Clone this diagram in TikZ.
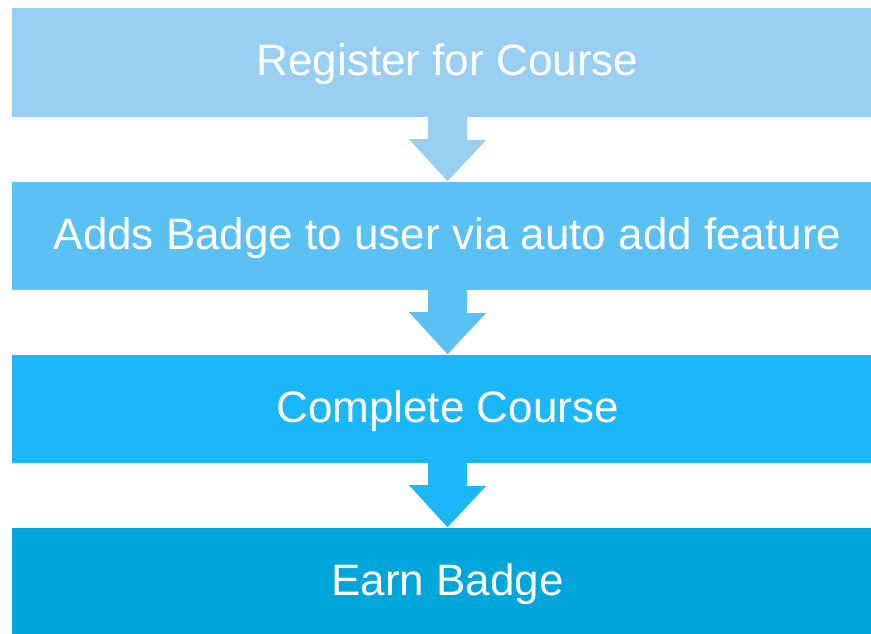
\documentclass[tikz,border=0pt]{standalone}
\usepackage{fontspec}
\setmainfont{Liberation Sans}
\usetikzlibrary{calc}
\definecolor{c1}{HTML}{99CFF3}
\definecolor{c2}{HTML}{5BC0F3}
\definecolor{c3}{HTML}{1BB7F9}
\definecolor{c4}{HTML}{00A5D9}
\tikzset{
  stage/.style={rectangle, inner sep=0pt, minimum width=871pt, text=white,
    text height=26pt, text depth=0pt,
    font=\fontsize{44}{52}\selectfont},
}
\newcommand{\flowarrow}[2]{%
  \fill[#2] ($(#1.south)+(-19.5,-1)$) -- ++(0,23) -- ++(-19,0)
     -- ($(#1.south)+(0,64)$) -- ($(#1.south)+(38.5,23)$) -- ++(-19,0)
     -- ($(#1.south)+(19.5,-1)$) -- cycle;}
\begin{document}
\begin{tikzpicture}[x=1pt,y=-1pt]
\useasboundingbox (0,0) rectangle (871,634);
\node[stage, fill=c1, minimum height=109pt] (b1) at (447.5,62.5) {Register for Course};
\node[stage, fill=c2, minimum height=108pt] (b2) at (447.5,236) {Adds Badge to user via auto add feature};
\node[stage, fill=c3, minimum height=108pt] (b3) at (447.5,409) {Complete Course};
\node[stage, fill=c4, minimum height=109pt] (b4) at (447.5,582.5) {Earn Badge};
\flowarrow{b1}{c1}
\flowarrow{b2}{c2}
\flowarrow{b3}{c3}
\end{tikzpicture}
\end{document}
